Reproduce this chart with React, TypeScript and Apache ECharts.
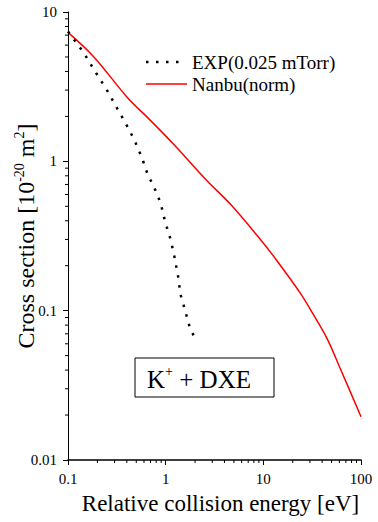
import { useEffect, useRef } from "react";
import * as echarts from "echarts";

// Relative collision energy [eV] and cross section [1e-20 m^2]
const nanbuEnergy = [0.1, 0.184, 0.403, 0.698, 1.207, 2.65, 4.59, 9.29, 12.7, 23.8, 32.6, 44.7, 61.1, 100];
const nanbuCross = [7.3, 5.0, 2.69, 1.88, 1.3, 0.741, 0.517, 0.301, 0.232, 0.1315, 0.094, 0.0655, 0.0412, 0.0195];

const expEnergy = [0.1, 0.145, 0.188, 0.248, 0.313, 0.394, 0.479, 0.574, 0.661, 0.743, 0.889, 0.986, 1.125, 1.236, 1.34, 1.42, 1.6, 1.79, 2.03];
const expCross = [7.4, 5.33, 4.03, 3.03, 2.31, 1.77, 1.39, 1.05, 0.8, 0.697, 0.525, 0.395, 0.299, 0.226, 0.17, 0.128, 0.0975, 0.0746, 0.0649];

const xTickLabels = ["0.1", "1", "10", "100"];
const xTickValues = [0.1, 1, 10, 100];
const yTickLabels = ["0.01", "0.1", "1", "10"];
const yTickValues = [0.01, 0.1, 1, 10];

const xMinorTicks = [0.2, 0.3, 0.4, 0.5, 0.6, 0.7, 0.8, 0.9, 2, 3, 4, 5, 6, 7, 8, 9, 20, 30, 40, 50, 60, 70, 80, 90];
const yMinorTicks = [0.02, 0.03, 0.04, 0.05, 0.06, 0.07, 0.08, 0.09, 0.2, 0.3, 0.4, 0.5, 0.6, 0.7, 0.8, 0.9, 2, 3, 4, 5, 6, 7, 8, 9];

const seriesNames = ["EXP(0.025 mTorr)", "Nanbu(norm)"];

const FONT = "'Liberation Serif', 'Times New Roman', 'DejaVu Serif', serif";
const EXP_DASH = [2.5, 7.5];

function nearestLabel(v: number, values: number[], labels: string[]) {
  let best = 0;
  let bd = Infinity;
  values.forEach((t, i) => {
    const d = Math.abs(Math.log10(t) - Math.log10(v));
    if (d < bd) {
      bd = d;
      best = i;
    }
  });
  return labels[best];
}

export default function App() {
  const ref = useRef<HTMLDivElement>(null);
  useEffect(() => {
    if (!ref.current) return;
    const chart = echarts.init(ref.current, undefined, { renderer: "svg" });
    const xMin = xTickValues[0];
    const xMax = xTickValues[xTickValues.length - 1];
    const yMin = yTickValues[0];
    const yMax = yTickValues[yTickValues.length - 1];
    const option: any = {
      animation: false,
      backgroundColor: "#fff",
      textStyle: { fontFamily: FONT },
      grid: { left: 68, right: 17, top: 12, bottom: 62, containLabel: false, outerBoundsMode: "none" },
      xAxis: {
        type: "log",
        logBase: 10,
        min: xMin,
        max: xMax,
        name: "Relative collision energy [eV]",
        nameLocation: "middle",
        nameGap: 32,
        nameMoveOverlap: false,
        nameTextStyle: { fontFamily: FONT, fontSize: 23, color: "#000", padding: [0, 0, 0, 12] },
        axisLine: { lineStyle: { color: "#000", width: 1.5 } },
        axisTick: { length: 5, lineStyle: { color: "#000", width: 1 } },
        axisLabel: {
          fontFamily: FONT,
          fontSize: 15,
          color: "#000",
          margin: 11,
          formatter: (v: number) => nearestLabel(v, xTickValues, xTickLabels),
        },
        splitLine: { show: false },
      },
      yAxis: {
        type: "log",
        logBase: 10,
        min: yMin,
        max: yMax,
        name: "Cross section [10{sup|-20} m{sup|2}]",
        nameLocation: "middle",
        nameRotate: 90,
        nameGap: 28,
        nameMoveOverlap: false,
        nameTextStyle: {
          fontFamily: FONT,
          fontSize: 24,
          color: "#000",
          lineHeight: 28,
          rich: {
            sup: { fontFamily: FONT, fontSize: 14, color: "#000", verticalAlign: "top", lineHeight: 15 },
          },
        },
        axisLine: { lineStyle: { color: "#000", width: 1 } },
        axisTick: { length: 5, lineStyle: { color: "#000", width: 1 } },
        axisLabel: {
          fontFamily: FONT,
          fontSize: 15,
          color: "#000",
          margin: 11,
          formatter: (v: number) => nearestLabel(v, yTickValues, yTickLabels),
        },
        splitLine: { show: false },
      },
      series: [
        {
          name: seriesNames[0],
          type: "line",
          symbol: "none",
          data: expEnergy.map((x, i) => [x, expCross[i]]),
          lineStyle: { color: "#000", width: 2.5, type: EXP_DASH, cap: "butt" },
          itemStyle: { color: "#000" },
          z: 3,
        },
        {
          name: seriesNames[1],
          type: "line",
          symbol: "none",
          smooth: 0.35,
          data: nanbuEnergy.map((x, i) => [x, nanbuCross[i]]),
          lineStyle: { color: "#ff0000", width: 1.5 },
          itemStyle: { color: "#ff0000" },
          z: 2,
        },
        {
          type: "custom",
          name: "xminor",
          silent: true,
          clip: false,
          data: xMinorTicks.map((v) => [v, yMin]),
          renderItem: (_p: any, api: any) => {
            const pt = api.coord([api.value(0), api.value(1)]);
            return {
              type: "line",
              shape: { x1: pt[0], y1: pt[1], x2: pt[0], y2: pt[1] + 3 },
              style: { stroke: "#000", lineWidth: 1 },
            };
          },
        },
        {
          type: "custom",
          name: "yminor",
          silent: true,
          clip: false,
          data: yMinorTicks.map((v) => [xMin, v]),
          renderItem: (_p: any, api: any) => {
            const pt = api.coord([api.value(0), api.value(1)]);
            return {
              type: "line",
              shape: { x1: pt[0] - 3, y1: pt[1], x2: pt[0], y2: pt[1] },
              style: { stroke: "#000", lineWidth: 1 },
            };
          },
        },
      ],
      graphic: [
        // legend
        {
          type: "line",
          shape: { x1: 146, y1: 62, x2: 184, y2: 62 },
          style: { stroke: "#000", lineWidth: 2.5, lineDash: EXP_DASH, lineCap: "butt" },
        },
        {
          type: "text",
          x: 192,
          y: 62,
          style: { text: seriesNames[0], font: `19px ${FONT}`, fill: "#000", verticalAlign: "middle", align: "left" },
        },
        {
          type: "line",
          shape: { x1: 146, y1: 84, x2: 187, y2: 84 },
          style: { stroke: "#ff0000", lineWidth: 1.5 },
        },
        {
          type: "text",
          x: 192,
          y: 84,
          style: { text: seriesNames[1], font: `19px ${FONT}`, fill: "#000", verticalAlign: "middle", align: "left" },
        },
        // label box
        {
          type: "rect",
          shape: { x: 135, y: 358, width: 139, height: 39 },
          style: { fill: "#fff", stroke: "#000", lineWidth: 1 },
          z: 5,
        },
        {
          type: "text",
          x: 199,
          y: 378,
          z: 6,
          style: {
            text: "{k|K}{s|+}{k| + DXE}",
            align: "center",
            verticalAlign: "middle",
            rich: {
              k: { fontFamily: FONT, fontSize: 25, fill: "#000", lineHeight: 28, verticalAlign: "bottom" },
              s: { fontFamily: FONT, fontSize: 14, fill: "#000", lineHeight: 28, verticalAlign: "top", padding: [0, 0, 9, 0] },
            },
          },
        },
      ],
    };
    chart.setOption(option);
    return () => chart.dispose();
  }, []);
  return (
    <div
      ref={ref}
      style={{ position: "fixed", left: 0, top: 0, width: 378, height: 522, background: "#fff" }}
    />
  );
}
